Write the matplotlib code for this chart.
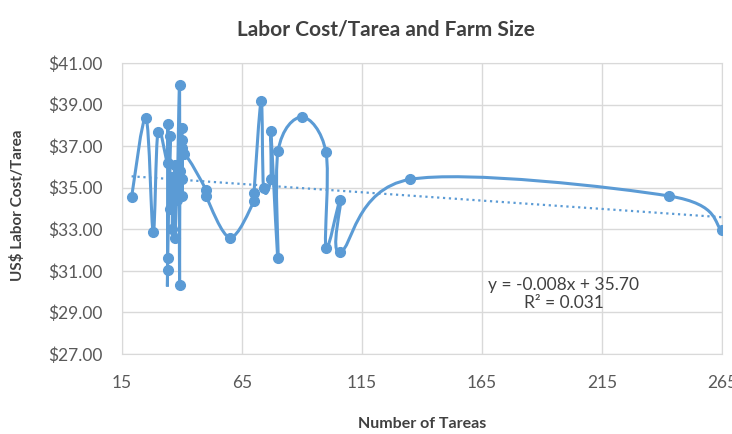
import matplotlib
matplotlib.use("Agg")
import matplotlib.pyplot as plt
from matplotlib.path import Path
from matplotlib.patches import PathPatch

# ── Datos ─────────────────────────────────────────────────────────────────────
tareas = [19, 25, 28, 30,
          34, 34, 34, 34, 35, 35, 36, 36, 37, 37, 38, 38, 39, 39, 39,
          40, 40, 40, 40, 40, 41,
          50, 50, 60, 70, 70, 73, 74, 77, 77, 80, 80, 90,
          100, 100, 106, 106, 135, 243, 265]
cost = [34.55, 38.35, 32.85, 37.70,
        36.20, 38.05, 31.05, 31.60, 37.50, 34.00, 35.50, 33.00, 36.10, 32.60,
        35.20, 34.40, 39.95, 30.30, 35.80,
        37.85, 34.60, 37.30, 36.90, 35.40, 36.60,
        34.90, 34.60, 32.60, 34.35, 34.75, 39.15, 35.00, 35.40, 37.75, 31.60,
        36.75, 38.40,
        36.70, 32.10, 34.40, 31.90, 35.40, 34.60, 32.95]

slope, intercept, r2 = -0.008, 35.70, 0.031
x_ticks = [15, 65, 115, 165, 215, 265]
y_ticks = [27, 29, 31, 33, 35, 37, 39, 41]

BLUE = "#5B9BD5"
GRID = "#D9D9D9"
TXT = "#595959"

plt.rcParams["font.family"] = ["Lato", "DejaVu Sans"]


def smooth_path(xs, ys):
    """Curva suavizada tipo Catmull-Rom (como las líneas suaves de Excel)."""
    pts = list(zip(xs, ys))
    verts = [pts[0]]
    codes = [Path.MOVETO]
    n = len(pts)
    for i in range(n - 1):
        p0 = pts[i - 1] if i > 0 else pts[i]
        p1 = pts[i]
        p2 = pts[i + 1]
        p3 = pts[i + 2] if i + 2 < n else pts[i + 1]
        c1 = (p1[0] + (p2[0] - p0[0]) / 6, p1[1] + (p2[1] - p0[1]) / 6)
        c2 = (p2[0] - (p3[0] - p1[0]) / 6, p2[1] - (p3[1] - p1[1]) / 6)
        verts += [c1, c2, p2]
        codes += [Path.CURVE4] * 3
    return Path(verts, codes)


fig = plt.figure(figsize=(7.32, 4.34), dpi=100)
ax = fig.add_axes([122 / 732, 1 - 354 / 434, 600 / 732, 291 / 434])

ax.add_patch(PathPatch(smooth_path(tareas, cost), facecolor="none",
                       edgecolor=BLUE, lw=2.2, zorder=3))
ax.plot(tareas, cost, "o", color=BLUE, markersize=7, zorder=4)

# línea de tendencia lineal
tx = [min(tareas), max(tareas)]
ax.plot(tx, [slope * v + intercept for v in tx], linestyle=":",
        color=BLUE, lw=1.6, zorder=2)

ax.set_xlim(15, 265)
ax.set_ylim(27, 41)
ax.set_xticks(x_ticks)
ax.set_yticks(y_ticks)
ax.set_yticklabels([f"${v:.2f}" for v in y_ticks])
ax.grid(True, color=GRID, lw=1)
ax.set_axisbelow(True)
for s in ax.spines.values():
    s.set_color(GRID)
ax.tick_params(length=0, labelsize=12.5, colors=TXT)
ax.tick_params(axis="x", pad=15)
ax.tick_params(axis="y", pad=14)

ax.set_xlabel("Number of Tareas", fontsize=11.5, fontweight="bold",
              color="#404040", labelpad=19)
fig.text(18 / 732, 1 - 205 / 434, "US$ Labor Cost/Tarea", rotation=90,
         ha="center", va="center", fontsize=11, fontweight="bold",
         color="#404040")
fig.text(386 / 732, 1 - 30 / 434, "Labor Cost/Tarea and Farm Size",
         ha="center", va="center", fontsize=15, fontweight="bold",
         color="#404040")

ax.text(199, 29.9, f"y = {slope:.3f}x + {intercept:.2f}\nR² = {r2:.3f}",
        ha="center", va="center", fontsize=12.5, color="#404040",
        linespacing=1.15)

fig.savefig("out.png", dpi=100)
